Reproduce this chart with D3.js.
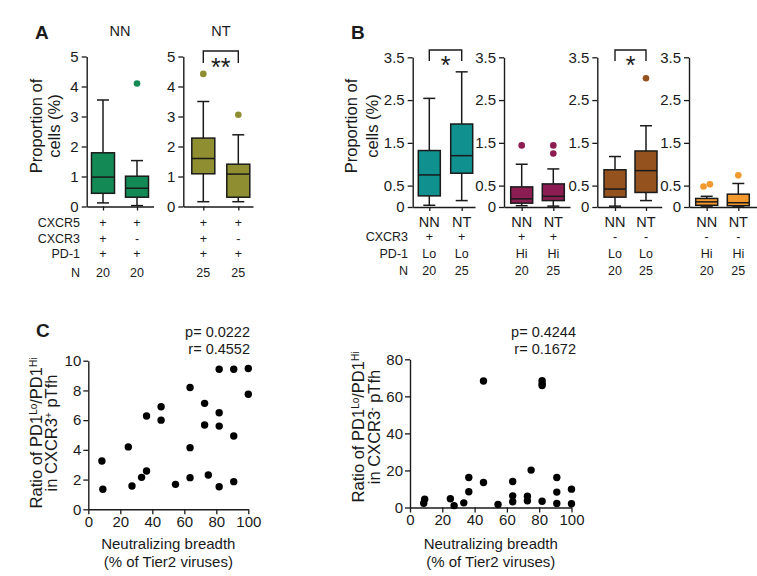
<!DOCTYPE html>
<html><head><meta charset="utf-8">
<script src="https://cdn.jsdelivr.net/npm/d3@7"></script>
<style>
body{margin:0;background:#fff}
svg{display:block}
text{font-family:"Liberation Sans",Arial,Helvetica,sans-serif;fill:#1a1a1a}
</style>
</head><body>
<svg id="c" width="757" height="576"></svg>
<script>
// ---------------- DATA ----------------
// Panel A : four boxes (NN CXCR3+, NN CXCR3-, NT CXCR3+, NT CXCR3-)
const groupTitlesA = ["NN", "NT"];
const boxIdsA = ["NN_X3pos", "NN_X3neg", "NT_X3pos", "NT_X3neg"];
const lowA  = [0.12, 0.03, 0.16, 0.16];
const q1A   = [0.44, 0.31, 1.09, 0.31];
const medA  = [0.98, 0.61, 1.60, 1.08];
const q3A   = [1.79, 1.01, 2.28, 1.41];
const highA = [3.55, 1.53, 3.50, 2.39];
const outA  = [[], [4.10], [4.42], [3.06]];
const colorsA = ["#138a56", "#138a56", "#8f8f31", "#8f8f31"];
const ticksA = [0, 1, 2, 3, 4, 5];
const rowLabelsA = ["CXCR5", "CXCR3", "PD-1", "N"];
const cxcr5A = ["+", "+", "+", "+"];
const cxcr3A = ["+", "-", "+", "-"];
const pd1A   = ["+", "+", "+", "+"];
const nA     = ["20", "20", "25", "25"];
const sigA   = ["", "**"];

// Panel B : eight boxes
const boxIdsB = ["NN_LoP","NT_LoP","NN_HiP","NT_HiP","NN_LoN","NT_LoN","NN_HiN","NT_HiN"];
const lowB  = [0.04, 0.15, 0.03, 0.02, 0.02, 0.15, 0.02, 0.02];
const q1B   = [0.26, 0.79, 0.09, 0.15, 0.23, 0.34, 0.04, 0.03];
const medB  = [0.75, 1.20, 0.19, 0.25, 0.42, 0.85, 0.12, 0.10];
const q3B   = [1.32, 1.94, 0.47, 0.54, 0.87, 1.31, 0.20, 0.30];
const highB = [2.54, 3.16, 1.00, 0.89, 1.18, 1.90, 0.25, 0.55];
const outB  = [[], [], [1.44], [1.44, 1.25], [], [3.01], [0.48, 0.53], [0.74]];
const colorsB = ["#10908f","#10908f","#8c1d52","#8c1d52","#94521f","#94521f","#f2982c","#f2982c"];
const ticksB = [0, 0.5, 1.5, 2.5, 3.5];
const rowLabelsB = ["", "CXCR3", "PD-1", "N"];
const groupB = ["NN","NT","NN","NT","NN","NT","NN","NT"];
const cxcr3B = ["+","+","+","+","-","-","-","-"];
const pd1B   = ["Lo","Lo","Hi","Hi","Lo","Lo","Hi","Hi"];
const nB     = ["20","25","20","25","20","25","20","25"];
const sigB   = ["*", "", "*", ""];

// Panel C : scatter plots
const breadthL = [8.5, 9.1, 25, 27.3, 33.3, 36.4, 36.4, 45.5, 45.5, 54.5, 63.6, 63.6, 63.6, 72.7, 72.7, 75, 81.8, 81.8, 81.8, 81.8, 90.9, 90.9, 90.9, 100, 100];
const ratioL   = [3.25, 1.35, 4.2, 1.57, 2.15, 2.58, 6.28, 6.9, 6.0, 1.68, 8.2, 4.15, 2.13, 7.13, 5.67, 2.31, 9.42, 6.5, 5.6, 1.52, 9.42, 4.93, 1.86, 9.48, 7.74];
const breadthR = [8.5, 9.1, 25, 27.3, 33.3, 36.4, 36.4, 45.5, 45.5, 54.5, 63.6, 63.6, 63.6, 72.7, 72.7, 75, 81.8, 81.8, 81.8, 81.8, 90.9, 90.9, 90.9, 100, 100];
const ratioR   = [2.3, 4.5, 4.7, 1.0, 2.5, 8.5, 16.2, 68.3, 13.5, 1.6, 14, 6.3, 3.1, 6.1, 3.6, 20.2, 68.5, 67, 65.8, 3.4, 16.2, 8.3, 2.2, 9.9, 2.0];
const ticksX = [0, 20, 40, 60, 80, 100];
const ticksYL = [0, 2, 4, 6, 8, 10];
const ticksYR = [0, 20, 40, 60, 80];
const statsL = ["p= 0.0222", "r= 0.4552"];
const statsR = ["p= 0.4244", "r= 0.1672"];

// ---------------- DRAWING ----------------
const svg = d3.select("#c");
const FONT = '"Liberation Sans",Arial,Helvetica,sans-serif';

function styleAxis(g, fs) {
  g.selectAll("path.domain").attr("stroke", "#1a1a1a").attr("stroke-width", 1.4);
  g.selectAll(".tick line").attr("stroke", "#1a1a1a").attr("stroke-width", 1.3);
  g.selectAll(".tick text").attr("font-family", FONT).attr("font-size", fs).attr("fill", "#1a1a1a");
}

// one box sub-plot
function boxPlot(cfg) {
  const {ids, idx, axisX, axisEnd, c1, c2, y, ticks, tickFmt, low, q1, med, q3, high, outs, colors, bw, fs} = cfg;
  const step = c2 - c1, L = axisEnd - axisX;
  const x = d3.scalePoint().domain(idx.map(i => ids[i]))
    .range([axisX, axisEnd]).padding((L / step - 1) / 2).align((c1 - axisX) / (L - step));
  const g = svg.append("g");
  const ya = g.append("g").attr("transform", `translate(${axisX},0)`)
    .call(d3.axisLeft(y).tickValues(ticks).tickFormat(tickFmt).tickSize(5).tickPadding(3).tickSizeOuter(0));
  styleAxis(ya, fs);
  const xa = g.append("g").attr("transform", `translate(0,${y(0)})`)
    .call(d3.axisBottom(x).tickSize(4).tickFormat("").tickSizeOuter(0));
  styleAxis(xa, fs);
  const cap = 12;
  idx.forEach(i => {
    const cx = x(ids[i]);
    const gg = g.append("g").attr("stroke", "#1a1a1a").attr("stroke-width", 1.5).attr("fill", "none");
    gg.append("line").attr("x1", cx).attr("x2", cx).attr("y1", y(low[i])).attr("y2", y(q1[i]));
    gg.append("line").attr("x1", cx).attr("x2", cx).attr("y1", y(q3[i])).attr("y2", y(high[i]));
    gg.append("line").attr("x1", cx - cap/2).attr("x2", cx + cap/2).attr("y1", y(low[i])).attr("y2", y(low[i]));
    gg.append("line").attr("x1", cx - cap/2).attr("x2", cx + cap/2).attr("y1", y(high[i])).attr("y2", y(high[i]));
    gg.append("rect").attr("x", cx - bw/2).attr("width", bw)
      .attr("y", y(q3[i])).attr("height", y(q1[i]) - y(q3[i])).attr("fill", colors[i]);
    gg.append("line").attr("x1", cx - bw/2).attr("x2", cx + bw/2).attr("y1", y(med[i])).attr("y2", y(med[i]));
    const os = outs[i];
    os.forEach((v, k) => {
      let dx = 0;
      os.forEach((w, m) => { if (m !== k && Math.abs(w - v) < 0.12) dx = (k < m ? -3.2 : 3.2); });
      g.append("circle").attr("cx", cx + dx).attr("cy", y(v)).attr("r", 3.3).attr("fill", colors[i]);
    });
  });
  return x;
}

function bracket(x1, x2, top, leg, label, starY) {
  svg.append("path").attr("d", `M${x1},${leg}V${top}H${x2}V${leg}`)
    .attr("fill", "none").attr("stroke", "#1a1a1a").attr("stroke-width", 1.4);
  svg.append("text").attr("x", (x1 + x2) / 2).attr("y", starY).attr("text-anchor", "middle")
    .attr("font-size", 25).text(label);
}

function vlabel(cx, cy, baselines, htmls, fs) {
  baselines.forEach((bx, k) => {
    svg.append("text").attr("transform", `translate(${bx},${cy}) rotate(-90)`)
      .attr("text-anchor", "middle").attr("font-size", fs).html(htmls[k]);
  });
}

// ---------- Panel A ----------
const yA = d3.scaleLinear().domain([0, 5]).range([206.5, 56.5]);
const xA1 = boxPlot({ids: boxIdsA, idx: [0, 1], axisX: 86.7, axisEnd: 153.5, c1: 103, c2: 137, y: yA,
  ticks: ticksA, tickFmt: d3.format("d"), low: lowA, q1: q1A, med: medA, q3: q3A, high: highA, outs: outA,
  colors: colorsA, bw: 23, fs: 15});
const xA2 = boxPlot({ids: boxIdsA, idx: [2, 3], axisX: 183.3, axisEnd: 253, c1: 203.3, c2: 238.3, y: yA,
  ticks: ticksA, tickFmt: d3.format("d"), low: lowA, q1: q1A, med: medA, q3: q3A, high: highA, outs: outA,
  colors: colorsA, bw: 23, fs: 15});
const posA = boxIdsA.map((id, i) => i < 2 ? xA1(id) : xA2(id));
svg.append("text").attr("x", 120).attr("y", 36).attr("text-anchor", "middle").attr("font-size", 14.5).text(groupTitlesA[0]);
svg.append("text").attr("x", 221).attr("y", 36).attr("text-anchor", "middle").attr("font-size", 14.5).text(groupTitlesA[1]);
bracket(posA[2], posA[3], 51, 63, sigA[1], 76);
svg.append("text").attr("x", 35).attr("y", 39).attr("font-size", 19).attr("font-weight", "bold").text("A");
vlabel(0, 126, [41.5, 60], ["Proportion of", "cells (%)"], 16.5);
const rowYA = [226.5, 242.5, 257.5, 276.5];
const rowsA = [cxcr5A, cxcr3A, pd1A, nA];
rowLabelsA.forEach((lab, r) => {
  svg.append("text").attr("x", 80).attr("y", rowYA[r]).attr("text-anchor", "end").attr("font-size", 12.5).text(lab);
  rowsA[r].forEach((v, i) => {
    svg.append("text").attr("x", posA[i]).attr("y", rowYA[r]).attr("text-anchor", "middle")
      .attr("font-size", 12.5).attr("fill", v === "-" ? "#777" : "#1a1a1a").text(v);
  });
});

// ---------- Panel B ----------
const yB = d3.scaleLinear().domain([0, 3.5]).range([207, 57.3]);
const subB = [
  {axisX: 412.7, axisEnd: 475, c1: 429.3, c2: 461.7},
  {axisX: 504, axisEnd: 570, c1: 521.7, c2: 553.3},
  {axisX: 597.3, axisEnd: 661.7, c1: 615, c2: 646},
  {axisX: 689, axisEnd: 756.5, c1: 706.7, c2: 738.3}
];
const posB = [];
subB.forEach((s, k) => {
  const xs = boxPlot(Object.assign({ids: boxIdsB, idx: [2*k, 2*k+1], y: yB, ticks: ticksB,
    tickFmt: d => d === 0 ? "0" : d3.format(".1f")(d), low: lowB, q1: q1B, med: medB, q3: q3B, high: highB,
    outs: outB, colors: colorsB, bw: 22, fs: 15}, s));
  posB.push(xs(boxIdsB[2*k]), xs(boxIdsB[2*k+1]));
  if (sigB[k]) bracket(posB[2*k], posB[2*k+1], 50, 61, sigB[k], 74);
});
svg.append("text").attr("x", 351).attr("y", 39).attr("font-size", 19).attr("font-weight", "bold").text("B");
vlabel(0, 126, [357, 378], ["Proportion of", "cells (%)"], 16.5);
const rowYB = [226.5, 241, 257.5, 275];
const rowsB = [groupB, cxcr3B, pd1B, nB];
rowLabelsB.forEach((lab, r) => {
  if (lab) svg.append("text").attr("x", 408).attr("y", rowYB[r]).attr("text-anchor", "end").attr("font-size", 12.5).text(lab);
  rowsB[r].forEach((v, i) => {
    svg.append("text").attr("x", posB[i]).attr("y", rowYB[r]).attr("text-anchor", "middle")
      .attr("font-size", r === 0 ? 14.5 : 12.5).attr("fill", v === "-" ? "#777" : "#1a1a1a").text(v);
  });
});

// ---------- Panel C ----------
function scatter(cfg) {
  const {x0, x1, y0, y1, ymax, yticks, xs, ys, stats, statX} = cfg;
  const x = d3.scaleLinear().domain([0, 100]).range([x0, x1]);
  const y = d3.scaleLinear().domain([0, ymax]).range([y0, y1]);
  const g = svg.append("g");
  const ya = g.append("g").attr("transform", `translate(${x0},0)`)
    .call(d3.axisLeft(y).tickValues(yticks).tickSize(5).tickPadding(2).tickSizeOuter(0));
  styleAxis(ya, 15);
  const xa = g.append("g").attr("transform", `translate(0,${y0})`)
    .call(d3.axisBottom(x).tickValues(ticksX).tickSize(5).tickPadding(2).tickSizeOuter(0));
  styleAxis(xa, 15);
  g.selectAll("circle.pt").data(xs).join("circle").attr("class", "pt")
    .attr("cx", d => x(d)).attr("cy", (d, i) => y(ys[i])).attr("r", 3.7).attr("fill", "#000");
  stats.forEach((s, k) => svg.append("text").attr("x", statX).attr("y", 337 + k * 16.5)
    .attr("text-anchor", "end").attr("font-size", 14.5).text(s));
  const cx = (x0 + x1) / 2;
  svg.append("text").attr("x", cx).attr("y", 549).attr("text-anchor", "middle").attr("font-size", 15).text("Neutralizing breadth");
  svg.append("text").attr("x", cx).attr("y", 567).attr("text-anchor", "middle").attr("font-size", 15).text("(% of Tier2 viruses)");
}
scatter({x0: 88.3, x1: 248.3, y0: 509.3, y1: 360.7, ymax: 10, yticks: ticksYL, xs: breadthL, ys: ratioL, stats: statsL, statX: 250});
scatter({x0: 410, x1: 571.5, y0: 507.5, y1: 359.3, ymax: 80, yticks: ticksYR, xs: breadthR, ys: ratioR, stats: statsR, statX: 576});
svg.append("text").attr("x", 36).attr("y", 337).attr("font-size", 19).attr("font-weight", "bold").text("C");
const sup = t => `<tspan baseline-shift="super" font-size="10">${t}</tspan>`;
vlabel(0, 433, [41.5, 57], [`Ratio of PD1${sup("Lo")}/PD1${sup("Hi")}`, `in CXCR3${sup("+")} pTfh`], 16.5);
vlabel(0, 427, [364, 380], [`Ratio of PD1${sup("Lo")}/PD1${sup("Hi")}`, `in CXCR3${sup("-")} pTfh`], 16.5);
</script>
</body></html>
